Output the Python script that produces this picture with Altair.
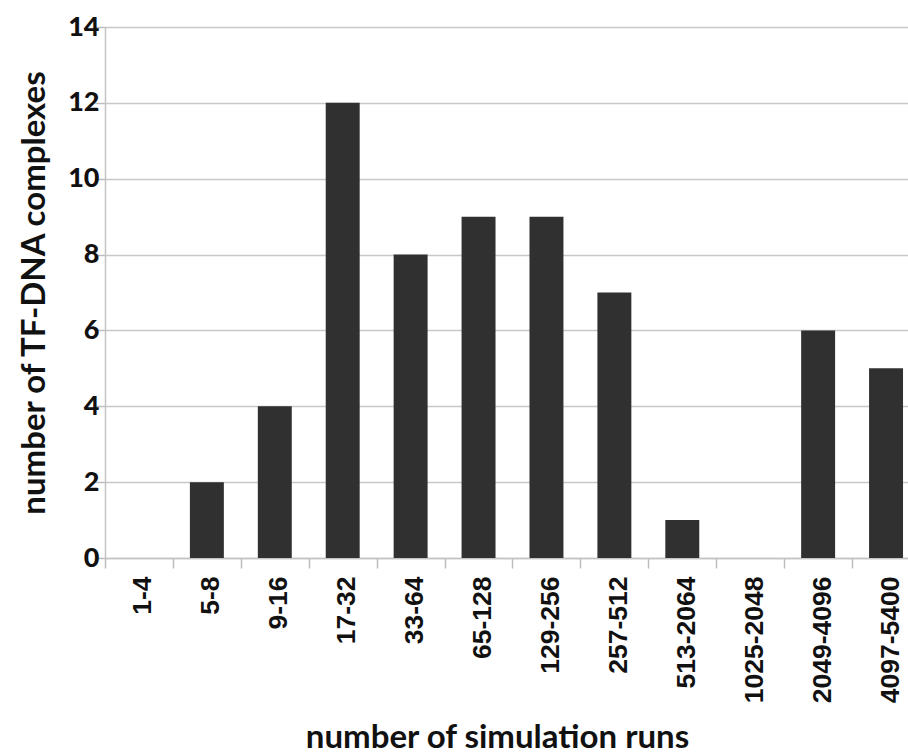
import altair as alt
import pandas as pd

categories = ["1-4", "5-8", "9-16", "17-32", "33-64", "65-128", "129-256",
              "257-512", "513-2064", "1025-2048", "2049-4096", "4097-5400"]
counts = [0, 2, 4, 12, 8, 9, 9, 7, 1, 0, 6, 5]
y_ticks = [0, 2, 4, 6, 8, 10, 12, 14]

df = pd.DataFrame({"runs": categories, "count": counts})

chart = alt.Chart(df).mark_bar(color="#303030").encode(
    x=alt.X("runs:N", sort=categories,
            scale=alt.Scale(range=[0, 815], paddingInner=0.5, paddingOuter=0.25),
            axis=alt.Axis(title="number of simulation runs",
                          labelAngle=270, labelAlign="right", labelBaseline="middle",
                          labelFont="Liberation Sans", labelFontWeight="bold",
                          labelFontSize=26.5, labelColor="#111111", labelPadding=8,
                          labelOffset=38,
                          tickOffset=-34, tickSize=10, tickColor="#bdbdbd", tickWidth=1.5,
                          domainColor="#c4c4c4", domainWidth=1.5,
                          titleFont="Lato", titleFontWeight="bold", titleFontSize=33,
                          titleColor="#111111", titleX=392, titleY=189,
                          titleAlign="center", titleBaseline="alphabetic")),
    y=alt.Y("count:Q", scale=alt.Scale(domain=[0, 14], nice=False),
            axis=alt.Axis(title="number of TF-DNA complexes", values=y_ticks,
                          labelFont="Lato", labelFontWeight=900, labelFontSize=27,
                          labelColor="#111111", labelPadding=-4,
                          tickSize=10, tickColor="#bdbdbd", tickWidth=1.5,
                          domainColor="#c4c4c4", domainWidth=1.5,
                          gridColor="#c8c8c8", gridWidth=1.5,
                          titleFont="Lato", titleFontWeight="bold", titleFontSize=33,
                          titleColor="#111111", titlePadding=16)),
).properties(
    width=803, height=531,
    autosize=alt.AutoSizeParams(type="none"),
    padding={"left": 105, "top": 27, "right": 0, "bottom": 198},
).configure_view(stroke=None).configure_axisX(grid=False)

chart.save("out.html", embed_options={"renderer": "svg", "actions": False})
